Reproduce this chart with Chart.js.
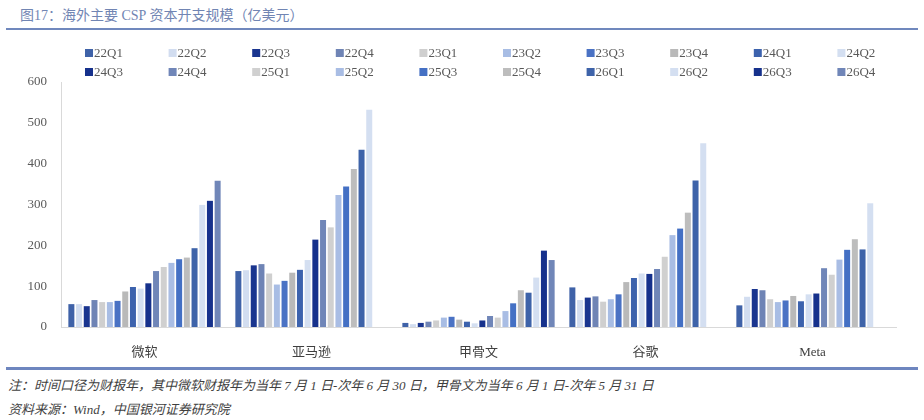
<!DOCTYPE html>
<html>
<head>
<meta charset="utf-8">
<script src="https://cdn.jsdelivr.net/npm/chart.js@4.4.1/dist/chart.umd.min.js"></script>
<style>
  html, body { margin: 0; padding: 0; background: #ffffff; }
  #wrap { position: relative; width: 924px; height: 420px; overflow: hidden; font-family: "Liberation Serif", "Noto Sans CJK SC", serif; }
  #title { position: absolute; left: 20px; top: 4px; font-size: 14px; color: #7185b3; white-space: nowrap; }
  #topline { position: absolute; left: 6px; top: 28px; width: 912px; height: 2px; background: #7088bd; }
  #chartbox { position: absolute; left: 0; top: 32px; width: 924px; height: 335px; }
  #botline { position: absolute; left: 6px; top: 367px; width: 912px; height: 3px; background: #6e86bf; }
  .note { position: absolute; left: 8px; font-size: 13px; font-style: italic; color: #3f3f3f; white-space: nowrap; }
  #note1 { top: 375px; }
  #note2 { top: 399px; }
</style>
</head>
<body>
<div id="wrap">
  <div id="title">图17：海外主要 CSP 资本开支规模（亿美元）</div>
  <div id="topline"></div>
  <div id="chartbox"><canvas id="c" width="924" height="335"></canvas></div>
  <div id="botline"></div>
  <div class="note" id="note1">注：时间口径为财报年，其中微软财报年为当年 7 月 1 日-次年 6 月 30 日，甲骨文为当年 6 月 1 日-次年 5 月 31 日</div>
  <div class="note" id="note2">资料来源：Wind，中国银河证券研究院</div>
</div>
<script>
// ---- data ----
const categories = ['微软', '亚马逊', '甲骨文', '谷歌', 'Meta'];
const quarters = ['22Q1','22Q2','22Q3','22Q4','23Q1','23Q2','23Q3','23Q4','24Q1','24Q2',
                  '24Q3','24Q4','25Q1','25Q2','25Q3','25Q4','26Q1','26Q2','26Q3','26Q4'];
const microsoft = [56,56,51,66,61,61,64,87,98,94,107,137,147,157,166,170,193,299,309,358];
const amazon    = [137,139,151,154,131,104,113,133,140,164,214,262,244,323,344,387,434,532,null,null];
const oracle    = [10,7,10,13,16,23,25,18,13,9,16,27,23,39,58,90,84,121,187,164];
const google    = [97,66,72,75,62,68,80,110,120,131,130,142,172,225,241,280,359,450,null,null];
const meta      = [53,74,93,90,68,61,65,76,63,80,82,144,128,165,189,215,190,303,null,null];
const yTicks = [0,100,200,300,400,500,600];

// ---- styles ----
const colors = ['#3f62a8','#d2ddf0','#1a358f','#6f84b5','#cfcfcf','#a8bde4','#4a72c4','#b9b9b9','#3c62ad','#d4dff1',
                '#16318c','#7086b8','#d0d0d0','#a9bde4','#4470c4','#bdbdbd','#3e63a9','#d4dff1','#16318c','#7086b8'];

const companies = [microsoft, amazon, oracle, google, meta];
const datasets = quarters.map((q, i) => ({
  label: q,
  data: companies.map(arr => arr[i]),
  backgroundColor: colors[i],
  borderWidth: 0,
  categoryPercentage: 0.922,
  barPercentage: 0.78
}));

const legendPlugin = {
  id: 'customLegend',
  afterDraw(chart) {
    const ctx = chart.ctx;
    ctx.save();
    ctx.font = '13px "Liberation Serif", serif';
    ctx.textBaseline = 'middle';
    ctx.textAlign = 'left';
    chart.data.datasets.forEach((ds, i) => {
      const row = Math.floor(i / 10), col = i % 10;
      const x = 85 + col * 83.6;
      const y = (row === 0 ? 53 : 72) - 32;
      ctx.fillStyle = ds.backgroundColor;
      ctx.fillRect(x, y - 4, 8, 8);
      ctx.fillStyle = '#595959';
      ctx.fillText(ds.label, x + 9, y + 0.5);
    });
    ctx.restore();
  }
};

new Chart(document.getElementById('c'), {
  type: 'bar',
  data: { labels: categories, datasets },
  plugins: [legendPlugin],
  options: {
    responsive: false,
    animation: false,
    devicePixelRatio: 1,
    layout: { padding: { top: 50, right: 28, bottom: 0, left: 0 } },
    plugins: { legend: { display: false }, tooltip: { enabled: false } },
    scales: {
      x: {
        grid: { display: false, drawTicks: false },
        border: { display: true, color: '#d9d9d9', width: 1 },
        ticks: {
          padding: 18,
          color: '#404040',
          font: { family: '"Liberation Serif", "Noto Sans CJK SC", serif', size: 13 }
        },
        afterFit(scale) { scale.height = 40; }
      },
      y: {
        min: 0, max: 600,
        afterBuildTicks(scale) { scale.ticks = yTicks.map(v => ({ value: v })); },
        grid: { display: false, drawTicks: false },
        border: { display: true, color: '#d9d9d9', width: 1 },
        ticks: {
          padding: 14,
          color: '#595959',
          font: { family: '"Liberation Serif", serif', size: 13 }
        },
        afterFit(scale) { scale.width = 61; }
      }
    }
  }
});
</script>
</body>
</html>
